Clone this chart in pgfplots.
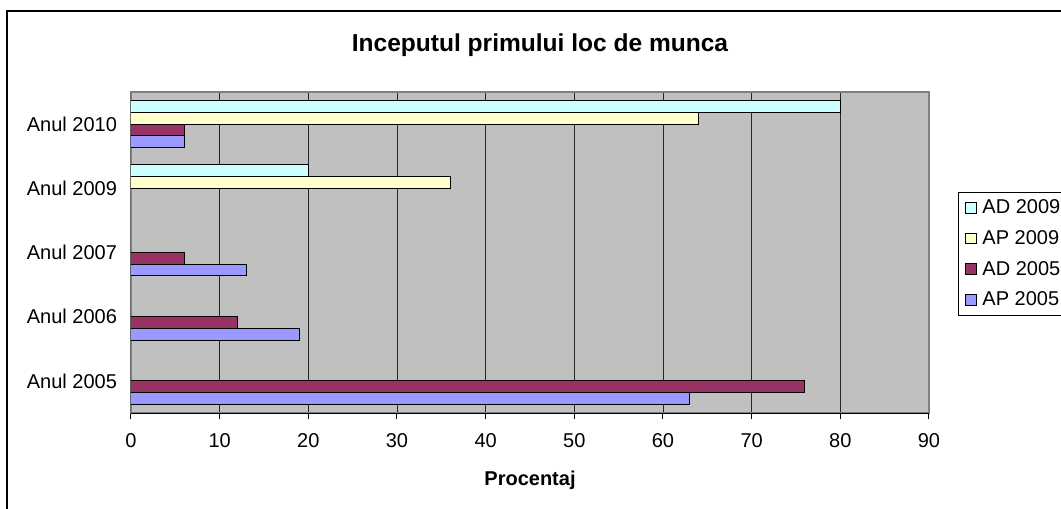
\documentclass[border=0pt]{standalone}
\usepackage{fontspec}
\setmainfont{Liberation Sans}
\usepackage{pgfplots}
\pgfplotsset{compat=1.18}
\definecolor{adnoua}{HTML}{CCFFFF}
\definecolor{apnoua}{HTML}{FFFFCC}
\definecolor{adcinci}{HTML}{993366}
\definecolor{apcinci}{HTML}{9999FF}
\definecolor{fundal}{HTML}{C0C0C0}

\begin{document}
\begin{tikzpicture}
% 1 px of the reference = 0.75pt
\useasboundingbox (0,0) rectangle (795.75pt,-381pt);
\draw[line width=1.2pt] (5.25pt,-8.25pt) rectangle (812pt,-400pt);
\node[font=\bfseries\fontsize{18.4}{21}\selectfont, anchor=base] at (405pt,-38.25pt) {Inceputul primului loc de munca};
\begin{axis}[
    at={(98.25pt,-309.75pt)}, anchor=south west,
    scale only axis, width=598.5pt, height=240.75pt,
    xbar, bar width=8.75pt,
    xmin=0, xmax=90, ymin=-0.5, ymax=4.5,
    xtick={0,10,...,90},
    ytick={0,...,4},
    yticklabels={Anul 2005,Anul 2006,Anul 2007,Anul 2009,Anul 2010},
    minor ytick={-0.5,0.5,...,4.5},
    xtick pos=bottom, ytick pos=left,
    tick align=outside,
    major tick length=4.5pt, minor tick length=5.25pt,
    ytick style={draw=none},
    minor y tick style={black, line width=0.75pt},
    x tick style={black, line width=0.75pt},
    xmajorgrids, major grid style={black!85, line width=0.6pt},
    axis background/.style={fill=fundal},
    axis line style={draw=black!50, line width=1pt},
    /pgf/number format/assume math mode=true,
    tick label style={font=\fontsize{15}{18}\selectfont},
    yticklabel style={xshift=-2.5pt},
    xticklabel style={yshift=-7.5pt},
    xlabel={\bfseries Procentaj},
    xlabel style={font=\fontsize{15}{18}\selectfont, at={(rel axis cs:0.5,0)}, anchor=base, yshift=-54pt},
    legend image code/.code={
        \path[draw=none, fill=none] (-2.5pt,-11.5pt) rectangle (10.5pt,11.5pt);
        \draw[#1, line width=0.75pt] (0pt,-4.1pt) rectangle (8.25pt,4.1pt);},
    reverse legend,
    legend cell align=left,
    legend style={at={(1.0363,0.6885)}, anchor=north west, draw=black, line width=0.75pt,
        font=\fontsize{15}{18}\selectfont, inner ysep=0pt},
]
\addplot[fill=apcinci, draw=black, line width=0.75pt, bar shift=-13.125pt]
    coordinates {(63,0) (19,1) (13,2) (6,4)};
\addplot[fill=adcinci, draw=black, line width=0.75pt, bar shift=-4.375pt]
    coordinates {(76,0) (12,1) (6,2) (6,4)};
\addplot[fill=apnoua, draw=black, line width=0.75pt, bar shift=4.375pt]
    coordinates {(36,3) (64,4)};
\addplot[fill=adnoua, draw=black, line width=0.75pt, bar shift=13.125pt]
    coordinates {(20,3) (80,4)};
\legend{AP 2005,AD 2005,AP 2009,AD 2009}
\draw[black, line width=0.75pt] (rel axis cs:0,1) -- (rel axis cs:0,0) -- (rel axis cs:1,0);
\end{axis}
\end{tikzpicture}
\end{document}
